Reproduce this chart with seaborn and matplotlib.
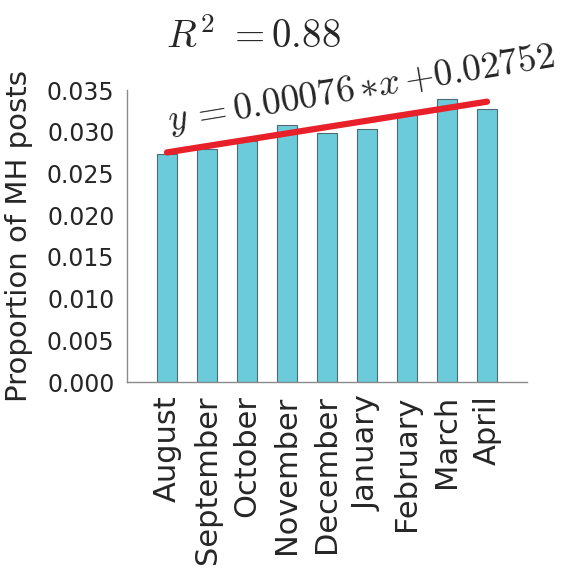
import numpy as np
import pandas as pd
import matplotlib
matplotlib.use("Agg")
import matplotlib.pyplot as plt
import seaborn as sns

months = ["August", "September", "October", "November", "December",
          "January", "February", "March", "April"]
proportions = [0.0273, 0.0279, 0.0289, 0.0308, 0.0299, 0.0303, 0.0322, 0.0339, 0.0327]
slope = 0.00076
intercept = 0.02752
r2_text = "0.88"
ylabel = "Proportion of MH posts"
yticks = [0.000, 0.005, 0.010, 0.015, 0.020, 0.025, 0.030, 0.035]

sns.set_style("white")
plt.rcParams["font.family"] = ["DejaVu Sans"]
plt.rcParams["mathtext.fontset"] = "cm"

fig = plt.figure(figsize=(5.69, 5.78), dpi=100)
ax = fig.add_axes([127 / 569, 1 - 382 / 578, 400 / 569, 292 / 578])

df = pd.DataFrame({"month": months, "prop": proportions})
sns.barplot(data=df, x="month", y="prop", ax=ax, color="#6ccbdb",
            saturation=1, width=0.5, edgecolor="#4f6a70", linewidth=0.8)

idx = np.arange(len(months))
fit = slope * idx + intercept
sns.lineplot(x=idx, y=fit, ax=ax, color="#e8202a", linewidth=4.5, zorder=5)

ax.set_xlim(-1, 9)
ax.set_ylim(0, 0.035)
ax.set_yticks(yticks)
ax.set_yticklabels([f"{v:.3f}" for v in yticks], fontsize=17)
ax.set_xticks(idx)
ax.set_xticklabels(months, rotation=90, fontsize=22)
ax.tick_params(axis="y", length=0, pad=9)
ax.tick_params(axis="x", direction="in", length=3, width=0.8, color="#4f6a70",
               pad=9.5, bottom=True)
ax.set_xlabel("")
ax.set_ylabel(ylabel, fontsize=21)
ax.yaxis.set_label_coords(-0.235, 0.5)

for s in ["top", "right"]:
    ax.spines[s].set_visible(False)
for s in ["left", "bottom"]:
    ax.spines[s].set_color("#8a8a8a")
    ax.spines[s].set_linewidth(1.0)

fig.text(166 / 569, 1 - 48 / 578, rf"$R^2\ {{=}}{r2_text}$",
         fontsize=28, ha="left", va="baseline")
fig.text(170 / 569, 1 - 131 / 578,
         rf"$y\,{{=}}{slope:.5f}\,{{*}}x\,{{+}}{intercept:.5f}$",
         fontsize=27, ha="left", va="baseline", rotation=9.5,
         rotation_mode="anchor")

fig.savefig("out.png", dpi=100)
